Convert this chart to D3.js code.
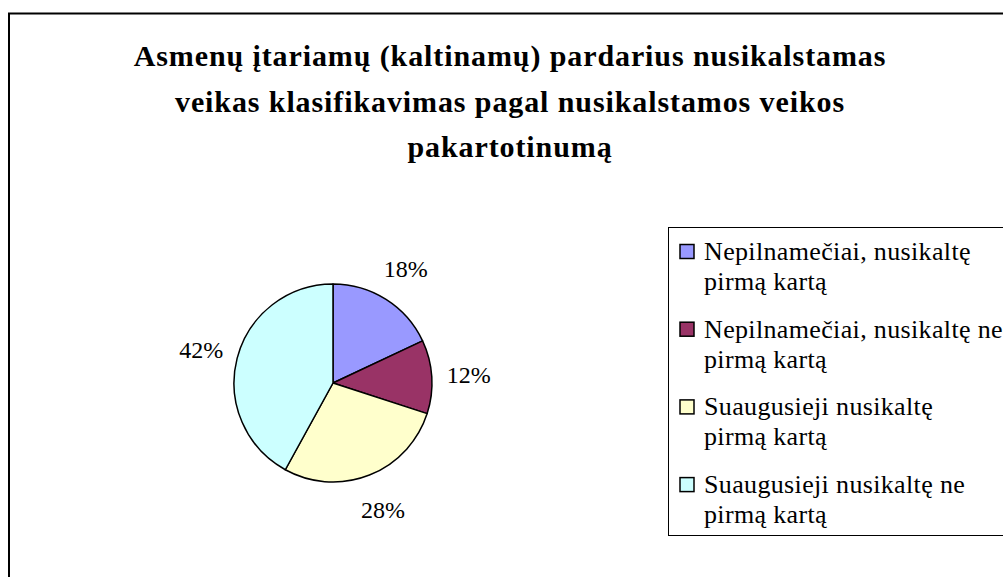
<html lang='lt'>

<head>
    <meta charset="utf-8">
    <title>
        Asmenų pasiskirstymas
    </title>
    <script src="https://d3js.org/d3.v7.min.js" charset="utf-8"></script>
    <style>
        body {
            margin: 0;
            background: #fff;
        }
    </style>
</head>

<body>
    <script>
        // data
        var titleLines = [
            'Asmenų įtariamų (kaltinamų) pardarius nusikalstamas',
            'veikas klasifikavimas pagal nusikalstamos veikos',
            'pakartotinumą'
        ];
        var categories = [
            ['Nepilnamečiai, nusikaltę', 'pirmą kartą'],
            ['Nepilnamečiai, nusikaltę ne', 'pirmą kartą'],
            ['Suaugusieji nusikaltę', 'pirmą kartą'],
            ['Suaugusieji nusikaltę ne', 'pirmą kartą']
        ];
        var values = [18, 12, 28, 42];
        var colors = ['#9999FF', '#993366', '#FFFFCC', '#CCFFFF'];

        var serif = "'Liberation Serif', 'DejaVu Serif', serif";

        // canvas
        var width = 1003, height = 577;

        var svg = d3.select('body')
            .append('svg')
            .attr('width', width)
            .attr('height', height)
            .attr('font-family', serif);

        // chart frame (runs off right and bottom)
        svg.append('rect')
            .attr('x', 9).attr('y', 13.5)
            .attr('width', 1004).attr('height', 600)
            .attr('fill', '#fff')
            .attr('stroke', '#000')
            .attr('stroke-width', 2);

        // title
        svg.append('g').selectAll('text')
            .data(titleLines).enter()
            .append('text')
            .attr('x', 510)
            .attr('y', function (d, i) { return 66 + i * 45.5; })
            .attr('text-anchor', 'middle')
            .style('font-family', serif)
            .style('font-size', '30px')
            .style('font-weight', 'bold')
            .style('letter-spacing', '0.9px')
            .text(function (d) { return d; });

        // pie
        var cx = 333, cy = 383, radius = 99;
        var pie = d3.pie().sort(null).value(function (d) { return d; });
        var arc = d3.arc().innerRadius(0).outerRadius(radius);
        var labelArc = d3.arc().innerRadius(136).outerRadius(136);

        var g = svg.append('g').attr('transform', 'translate(' + cx + ',' + cy + ')');
        var arcs = pie(values);

        g.selectAll('path').data(arcs).enter()
            .append('path')
            .attr('d', arc)
            .attr('fill', function (d, i) { return colors[i]; })
            .attr('stroke', '#000')
            .attr('stroke-width', 1.5)
            .attr('stroke-linejoin', 'round');

        g.selectAll('text').data(arcs).enter()
            .append('text')
            .attr('transform', function (d) { return 'translate(' + labelArc.centroid(d) + ')'; })
            .attr('text-anchor', 'middle')
            .attr('dy', '0.35em')
            .style('font-family', serif)
            .style('font-size', '24px')
            .text(function (d) { return d.data + '%'; });

        // legend
        var legend = svg.append('g');
        legend.append('rect')
            .attr('x', 668.5).attr('y', 227.5)
            .attr('width', 400).attr('height', 308)
            .attr('fill', '#fff')
            .attr('stroke', '#000')
            .attr('stroke-width', 1);

        var item = legend.selectAll('g.item')
            .data(categories).enter()
            .append('g').attr('class', 'item')
            .attr('transform', function (d, i) { return 'translate(0,' + (260 + i * 77.7) + ')'; });

        item.append('rect')
            .attr('x', 680).attr('y', -15.5)
            .attr('width', 14).attr('height', 14)
            .attr('fill', function (d, i) { return colors[i]; })
            .attr('stroke', '#000')
            .attr('stroke-width', 1.5);

        item.selectAll('text')
            .data(function (d) { return d; }).enter()
            .append('text')
            .attr('x', 704)
            .attr('y', function (d, j) { return j * 30; })
            .style('font-family', serif)
            .style('font-size', '26px')
            .style('letter-spacing', '0.35px')
            .text(function (d) { return d; });
    </script>
</body>

</html>
